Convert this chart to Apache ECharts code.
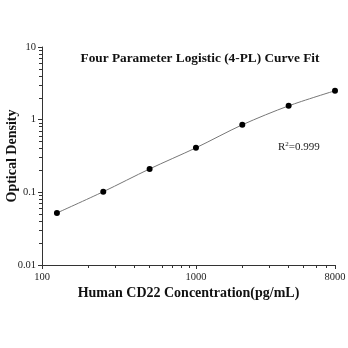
<!DOCTYPE html>
<html><head><meta charset="utf-8">
<script src="https://cdn.jsdelivr.net/npm/echarts@6/dist/echarts.min.js"></script>
<style>html,body{margin:0;padding:0;background:#fff}#c{width:348px;height:348px}</style>
</head><body><div id="c"></div>
<script>
const concentrations = [125, 250, 500, 1000, 2000, 4000, 8000];
const opticalDensity = [0.052, 0.102, 0.21, 0.41, 0.85, 1.55, 2.5];
const xTickLabels = [100, 1000, 8000];
const xMinorTicks = [200, 300, 400, 500, 600, 700, 800, 900, 2000, 3000, 4000, 5000, 6000, 7000];
const yTickLabels = [0.01, 0.1, 1, 10];
const yMinorTicks = [0.02,0.03,0.04,0.05,0.06,0.07,0.08,0.09,0.2,0.3,0.4,0.5,0.6,0.7,0.8,0.9,2,3,4,5,6,7,8,9];
const titleText = 'Four Parameter Logistic (4-PL) Curve Fit';
const xName = 'Human CD22 Concentration(pg/mL)';
const yName = 'Optical Density';
const r2Text = '0.999';

const serif = '"Liberation Serif", "Times New Roman", serif';
const chart = echarts.init(document.getElementById('c'));
const axisLine = {show: true, lineStyle: {color: '#333', width: 1}};
chart.setOption({
  animation: false,
  title: {text: titleText, left: 195, top: 47, textAlign: 'center',
    textStyle: {fontFamily: serif, fontWeight: 'bold', fontSize: 13.3, color: '#111'}},
  grid: {left: 42, top: 47, right: 13, bottom: 83, containLabel: false, outerBoundsMode: 'none'},
  xAxis: [{
    type: 'log', logBase: 10, min: 100, max: 8000,
    axisLine: axisLine, splitLine: {show: false},
    axisTick: {show: true, length: 4, customValues: xTickLabels, lineStyle: {color: '#333'}},
    axisLabel: {customValues: xTickLabels, fontFamily: serif, fontSize: 10.5, color: '#222', margin: 7,
      formatter: v => String(Math.round(v))},
    name: xName, nameLocation: 'middle', nameGap: 21, nameMoveOverlap: false,
    nameTextStyle: {fontFamily: serif, fontWeight: 'bold', fontSize: 14, color: '#111'}
  }, {
    type: 'log', logBase: 10, min: 100, max: 8000, position: 'bottom',
    axisLine: {show: false}, splitLine: {show: false},
    axisTick: {show: true, length: 3, customValues: xMinorTicks, lineStyle: {color: '#333'}},
    axisLabel: {show: false}
  }],
  yAxis: [{
    type: 'log', logBase: 10, min: 0.01, max: 10,
    axisLine: axisLine, splitLine: {show: false},
    axisTick: {show: true, length: 4, customValues: yTickLabels, lineStyle: {color: '#333'}},
    axisLabel: {customValues: yTickLabels, fontFamily: serif, fontSize: 10.5, color: '#222', margin: 6,
      formatter: v => String(parseFloat(v.toPrecision(3)))},
    name: yName, nameLocation: 'middle', nameGap: 23, nameMoveOverlap: false,
    nameTextStyle: {fontFamily: serif, fontWeight: 'bold', fontSize: 14, color: '#111'}
  }, {
    type: 'log', logBase: 10, min: 0.01, max: 10, position: 'left',
    axisLine: {show: false}, splitLine: {show: false},
    axisTick: {show: true, length: 3, customValues: yMinorTicks, lineStyle: {color: '#333'}},
    axisLabel: {show: false}
  }],
  graphic: [{
    type: 'text', left: 278, top: 141,
    style: {text: '{r|R}{s|2}{r|=' + r2Text + '}', fontFamily: serif,
      rich: {r: {fontFamily: serif, fontSize: 11, fill: '#222', color: '#222'},
             s: {fontFamily: serif, fontSize: 7, fill: '#222', color: '#222', verticalAlign: 'top', padding: [0,0,5,0]}}}
  }],
  series: [{
    type: 'line', xAxisIndex: 0, yAxisIndex: 0,
    data: concentrations.map((c, i) => [c, opticalDensity[i]]),
    smooth: 0.3, symbol: 'circle', symbolSize: 6,
    lineStyle: {color: '#777', width: 1},
    itemStyle: {color: '#000'}
  }]
});
</script></body></html>
